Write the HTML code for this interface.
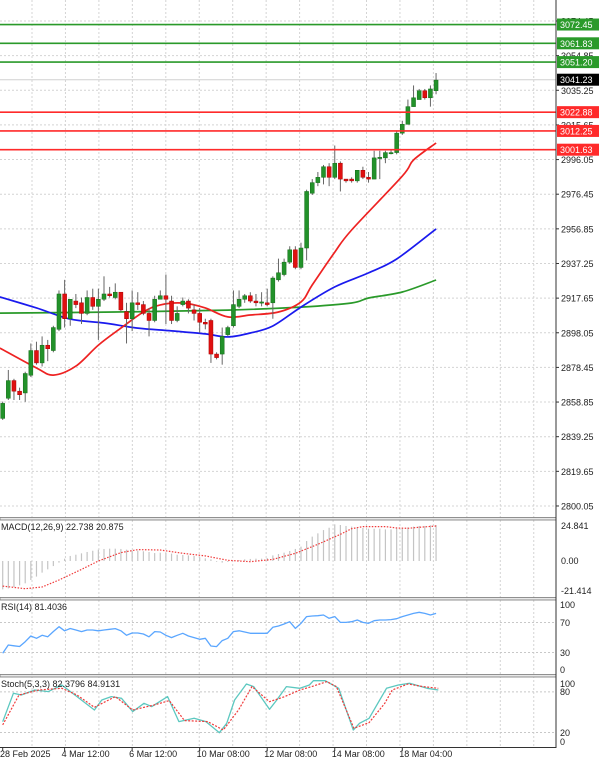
<!DOCTYPE html>
<html><head><meta charset="utf-8">
<style>
html,body{margin:0;padding:0;background:#fff;}
svg{display:block;font-family:"Liberation Sans",sans-serif;}
</style></head>
<body>
<svg id="chart" width="600" height="759" viewBox="0 0 600 759" xmlns="http://www.w3.org/2000/svg"></svg>
<script>
// ---- data ----
const opens  = [2849.6,2861,2871,2865,2864,2874,2888,2881,2891,2888,2900,2920,2906,2916,2915,2909,2918,2913,2917,2920,2918,2921,2910,2906,2915,2914,2909,2905,2917,2919,2916,2905,2914,2916,2911,2909,2904,2905,2886,2886,2897,2902,2913,2917,2919,2916,2915,2915,2915,2928,2931,2938,2945,2935,2946,2977,2983,2986,2992,2986,2994,2985,2985,2984,2990,2986,2985,2997,2997,2999.6,3000,3011,3016,3026,3030,3035,3031,3035];
const closes = [2858.1,2871,2865,2863,2875,2888,2881,2891,2889,2901,2920,2906,2917,2914,2909,2918,2913,2917,2920,2919,2921,2911,2906,2915,2914,2909,2905,2917,2919,2917,2905,2909,2916,2912,2909,2904,2903,2886,2884,2896,2901,2914,2917,2919,2916,2915,2915.5,2914,2929,2932,2938,2945,2935,2946,2978,2983,2986,2992,2986,2994,2985,2984,2984,2990,2986,2985,2997,2997.3,3000,3000,3011,3016,3026,3031,3035,3031,3036,3041];
const highs  = [2859.1,2877,2872,2867,2876,2892,2893,2896,2894,2902,2922,2928,2917,2920,2918,2922,2923,2923,2930,2924,2926,2921,2915,2922,2921,2916,2912,2919,2922,2931,2919,2913,2918,2917,2914,2912,2906,2906,2887,2901,2902,2922,2922,2920,2921,2920,2921,2923,2930,2940,2940,2947,2947,2949,2979,2985,2989,2993,2994,3004,2995,2985,2986,2990,2992,2989,3001,3001,3001,3002,3012,3018,3030,3038,3036,3036,3038,3045];
const lows   = [2848.7,2860,2860,2860,2859,2873,2880,2879,2882,2887,2899,2901,2902,2912,2903,2908,2911,2894,2916,2918,2917,2910,2892,2899,2911,2908,2896,2904,2917,2903,2903,2904,2913,2909,2905,2898,2900,2881,2883,2880,2896,2901,2912,2915,2915,2913,2913,2913,2906,2927,2930,2937,2934,2934,2939,2976,2981,2982,2981,2985,2978,2983,2983,2983,2985,2983,2985,2985,2994,2999,2999,3010,3016,3026,3030,3030,3026,3033];
const maRedIdx  = [-0.5,6,9,13,17,21,25,28,32,36,40,44,49,53,55,59,62,71,73,77];
const maRedVal  = [2889.4,2878.1,2874.1,2879.2,2891.1,2900.7,2909.8,2913.8,2914.9,2912.1,2907.0,2908.1,2909.8,2915.5,2925.1,2943.7,2956.2,2986.7,2995.8,3005.4];
const maBlueIdx = [-0.5,6,12,18,24,30,36,40,44,48,53,59,65,70,77];
const maBlueVal = [2918.3,2912.1,2905.8,2903.6,2900.7,2899.1,2897.4,2895.7,2897.9,2901.9,2912.6,2924.0,2931.9,2939.8,2956.8];
const maGreenIdx= [-0.5,20,40,53,62,65,71,77];
const maGreenVal= [2909.2,2909.8,2910.9,2912.6,2914.9,2917.7,2921.1,2927.9];
const priceTicks = [3074.45,3054.85,3035.25,3015.65,2996.05,2976.45,2956.85,2937.25,2917.65,2898.05,2878.45,2858.85,2839.25,2819.65,2800.05];
const resistance = [3072.45,3061.83,3051.20];
const support = [3022.88,3012.25,3001.63];
const lastPrice = 3041.23;
const macdHist = [-20.7,-20.0,-19.0,-17.8,-16.3,-13.9,-11.4,-8.5,-6.1,-3.7,-1.2,1.7,3.7,4.6,5.6,6.6,7.5,8.3,8.8,9.0,9.0,8.8,8.3,7.5,7.5,7.1,6.6,5.8,6.1,5.8,5.4,4.6,4.4,4.1,3.7,2.7,1.9,1.2,-0.5,-1.2,-0.7,0,0.7,1.2,1.5,1.7,1.7,2.2,4.1,5.1,6.1,7.3,8.8,10.5,14.6,17.8,20.2,22.6,24.3,26.8,26.3,25.6,25.1,24.6,24.1,23.6,23.6,23.6,23.1,23.1,23.6,24.1,24.6,25.1,25.6,25.6,26.1,26.3];
const macdSigIdx = [0,4,7,10,14,17,21,24,28,32,36,40,44,48,52,56,60,62,64,68,70,72,74,77];
const macdSigVal = [-18.3,-20.2,-19,-13.9,-6.1,0,6.1,8.3,8.0,5.6,3.7,0.5,-0.5,1.2,5.6,12.2,19.5,23.6,25.1,25.1,24.1,23.9,24.6,25.6];
const rsi = [29,40,39,38,44.4,52,49,53,51,58,64.4,59,62,60,57.8,60,60,59,60,61,61.8,59,53,56,56,54.7,51,57.8,57.3,53,49.8,53,55.6,52,49.8,47.6,49,38.7,37.8,45.8,49,57.8,59,57.3,55.6,55.6,55.6,55.6,63.6,65.3,68,71.1,62.2,68.9,77.8,78.7,79.1,80,75.6,77.8,70.2,70.2,71.1,73.3,70.2,68.9,72.4,73.3,73.3,73.8,75.1,77.8,80,82.2,83.6,82.2,80,82.2];
const stochIdx = [0,1.9,3.3,5.7,8.1,10.5,13.2,16.3,17.6,19.3,21.1,23.1,25.1,26.5,29.3,31.3,34,36.1,38.5,39.8,41.2,43.3,44.6,47.4,48.7,50.4,52.8,54.5,55.2,57.3,59.7,62.3,63.4,65.1,68.2,70.3,72.3,75.4,77.4];
const stochMain = [35.9,77.8,75.4,82.7,80.3,90.1,72.9,53.2,68,72.9,70.4,50.8,63.1,58.2,72.9,36,41,36,19.7,33.5,68,91.6,87.7,54.2,68,87.7,85.2,90.1,96.5,96.5,85.2,23.6,33.5,40.9,85.2,90.1,92.6,85.2,82.7];
const stochSigIdx = [0,2.9,6.4,10.5,13.2,16.3,20,23.1,26.9,29.6,32.3,36.4,39.2,41.9,44.3,47.4,50.1,52.8,54.9,57.6,59.3,62.4,65.1,67.9,69.2,72,74.7,77.4];
const stochSig = [31.1,75.4,82.7,85.2,75.4,57.2,72.9,53.2,60.6,67,37.5,36,23.6,53.2,87.7,65.5,72.9,82.7,87.7,95.1,87.7,26.1,34.5,63.1,82.7,91.6,87.7,85.2];
const timeIdx = [0,11,23,35,47,59,71];
const timeLabels = ["28 Feb 2025","4 Mar 12:00","6 Mar 12:00","10 Mar 08:00","12 Mar 08:00","14 Mar 08:00","18 Mar 04:00"];

// ---- scales ----
const AX = 556;
const xS = i => 2.7 + i * 5.628;
const yP = p => (3086.33 - p) / 0.5658;
const yM = v => 561 - v * 1.369;
const yR = v => 675 - v * 0.75;
const yS = v => 746 - v * 0.677;

const svg = document.getElementById('chart');
const NS = 'http://www.w3.org/2000/svg';
function mk(tag, attrs, parent) {
  const e = document.createElementNS(NS, tag);
  for (const k in attrs) e.setAttribute(k, attrs[k]);
  (parent || svg).appendChild(e);
  return e;
}
function grp(name) {
  const g = mk('g', {});
  
  
  return g;
}

// grid
const grid = grp('grid');
for (let x = 32; x < AX; x += 33.45) {
  mk('line', {x1:x, y1:0, x2:x, y2:747, stroke:'#d4d4d4', 'stroke-dasharray':'2,2', 'stroke-width':1}, grid);
}
priceTicks.forEach(p => {
  mk('line', {x1:0, y1:yP(p), x2:AX, y2:yP(p), stroke:'#d4d4d4', 'stroke-dasharray':'2,2'}, grid);
});
[70,30].forEach(v => mk('line', {x1:0,y1:yR(v),x2:AX,y2:yR(v),stroke:'#c8c8c8','stroke-dasharray':'2,2'}, grid));
[80,20].forEach(v => mk('line', {x1:0,y1:yS(v),x2:AX,y2:yS(v),stroke:'#c8c8c8','stroke-dasharray':'2,2'}, grid));

// price axis labels
const pax = grp('price-axis');
priceTicks.forEach(p => {
  const t = mk('text', {x:AX+5, y:yP(p)+3.5, 'font-size':9, fill:'#222'}, pax);
  t.textContent = p.toFixed(2);
  mk('line', {x1:AX, y1:yP(p), x2:AX+3, y2:yP(p), stroke:'#333'}, pax);
});

mk('line', {x1:0, y1:yP(lastPrice), x2:AX, y2:yP(lastPrice), stroke:'#d0d0d0'});

function line(idx, vals, yf, color, name, dash, w) {
  const pts = idx.map((i,k) => xS(i).toFixed(1)+','+yf(vals[k]).toFixed(1)).join(' ');
  const l = mk('polyline', {points:pts, fill:'none', stroke:color, 'stroke-width':w||1.6, 'stroke-linejoin':'round'});
  if (dash) l.setAttribute('stroke-dasharray', dash);
  
  
  return l;
}
function smooth(idx, vals, yf, color, name, w) {
  const P = idx.map((i,k) => [xS(i), yf(vals[k])]);
  let d = 'M' + P[0][0].toFixed(1) + ',' + P[0][1].toFixed(1);
  for (let k = 0; k < P.length - 1; k++) {
    const p0 = P[Math.max(0,k-1)], p1 = P[k], p2 = P[k+1], p3 = P[Math.min(P.length-1,k+2)];
    const c1 = [p1[0] + (p2[0]-p0[0])/6, p1[1] + (p2[1]-p0[1])/6];
    const c2 = [p2[0] - (p3[0]-p1[0])/6, p2[1] - (p3[1]-p1[1])/6];
    d += ' C' + c1[0].toFixed(1)+','+c1[1].toFixed(1)+' '+c2[0].toFixed(1)+','+c2[1].toFixed(1)+' '+p2[0].toFixed(1)+','+p2[1].toFixed(1);
  }
  const l = mk('path', {d:d, fill:'none', stroke:color, 'stroke-width':w||1.7});
  
  
  return l;
}
smooth(maGreenIdx, maGreenVal, yP, '#2a9a2a', 'ma-green');
smooth(maBlueIdx, maBlueVal, yP, '#1a1aee', 'ma-blue');
smooth(maRedIdx, maRedVal, yP, '#ee2222', 'ma-red');

// candles
const cg = grp('candles');
opens.forEach((o, i) => {
  const c = closes[i], x = xS(i);
  const up = c >= o;
  const w = mk('line', {x1:x, y1:yP(highs[i]), x2:x, y2:yP(lows[i]), stroke:'#666', 'stroke-width':1}, cg);
  
  
  const top = yP(Math.max(o,c)), bot = yP(Math.min(o,c));
  const r = mk('rect', {x:x-2, y:top, width:4, height:Math.max(1.2, bot-top), fill: up ? '#22922a' : '#e01010', stroke: up ? '#146b18' : '#a00', 'stroke-width':0.5}, cg);
  
  
});

function level(p, color, name) {
  const g = grp(name);
  mk('line', {x1:0, y1:yP(p), x2:AX, y2:yP(p), stroke:color, 'stroke-width':1.6}, g);
  mk('rect', {x:AX+1, y:yP(p)-6, width:42, height:12, fill:color}, g);
  const t = mk('text', {x:AX+4, y:yP(p)+3.5, 'font-size':9, fill:'#fff'}, g);
  t.textContent = p.toFixed(2);
}
resistance.forEach(p => level(p, '#2a9a2a', 'resistance-level'));
support.forEach(p => level(p, '#ff2a2a', 'support-level'));
const lp = grp('last-price-label');
mk('rect', {x:AX+1, y:yP(lastPrice)-6, width:42, height:12, fill:'#000'}, lp);
const lpt = mk('text', {x:AX+4, y:yP(lastPrice)+3.5, 'font-size':9, fill:'#fff'}, lp);
lpt.textContent = lastPrice.toFixed(2);

// MACD
const mg = grp('macd-histogram');
macdHist.forEach((v,i) => {
  const b = mk('line', {x1:xS(i), y1:yM(0), x2:xS(i), y2:yM(v), stroke:'#c4c4c4', 'stroke-width':1.2}, mg);
  
  
});
line(macdSigIdx, macdSigVal, yM, '#f03a3a', 'macd-signal', '1.5,1.5', 1.2);

line(rsi.map((v,i)=>i), rsi, yR, '#5aa6ff', 'rsi-line', null, 1.3);

line(stochIdx, stochMain, yS, '#5cc8c0', 'stoch-main', null, 1.3);
line(stochSigIdx, stochSig, yS, '#f03a3a', 'stoch-signal', '2,1.5', 1.2);

const fr = grp('panel-frame');
[517.5, 597.5, 674.5].forEach(y => {
  mk('rect', {x:0, y:y, width:AX, height:2.5, fill:'#e8e8e8', stroke:'#777', 'stroke-width':0.8}, fr);
});
mk('line', {x1:AX, y1:0, x2:AX, y2:748, stroke:'#333', 'stroke-width':1}, fr);
mk('line', {x1:0, y1:747.5, x2:AX, y2:747.5, stroke:'#333', 'stroke-width':1}, fr);

function txt(x, y, s, name, size, anchor) {
  const t = mk('text', {x:x, y:y, 'font-size':size||9, fill:'#222'});
  if (anchor) t.setAttribute('text-anchor', anchor);
  t.textContent = s;
  
  
  return t;
}
txt(1, 530, 'MACD(12,26,9) 22.738 20.875', 'macd-title');
txt(1, 610, 'RSI(14) 81.4036', 'rsi-title');
txt(1, 687, 'Stoch(5,3,3) 82.3796 84.9131', 'stoch-title');
txt(AX+5, 529, '24.841', 'macd-axis-label');
txt(AX+5, 564, '0.00', 'macd-axis-label');
txt(AX+5, 594, '-21.414', 'macd-axis-label');
txt(AX+4, 608, '100', 'rsi-axis-label');
txt(AX+4, 626, '70', 'rsi-axis-label');
txt(AX+4, 656, '30', 'rsi-axis-label');
txt(AX+4, 673, '0', 'rsi-axis-label');
txt(AX+4, 687, '100', 'stoch-axis-label');
txt(AX+4, 695, '80', 'stoch-axis-label');
txt(AX+4, 736, '20', 'stoch-axis-label');
txt(AX+4, 745, '0', 'stoch-axis-label');

timeIdx.forEach((i,k) => {
  const x = Math.max(0, xS(i) - 3);
  mk('line', {x1:xS(i), y1:747, x2:xS(i), y2:751, stroke:'#333'});
  txt(x, 757, timeLabels[k], 'time-axis-label');
});
</script>
</body></html>
